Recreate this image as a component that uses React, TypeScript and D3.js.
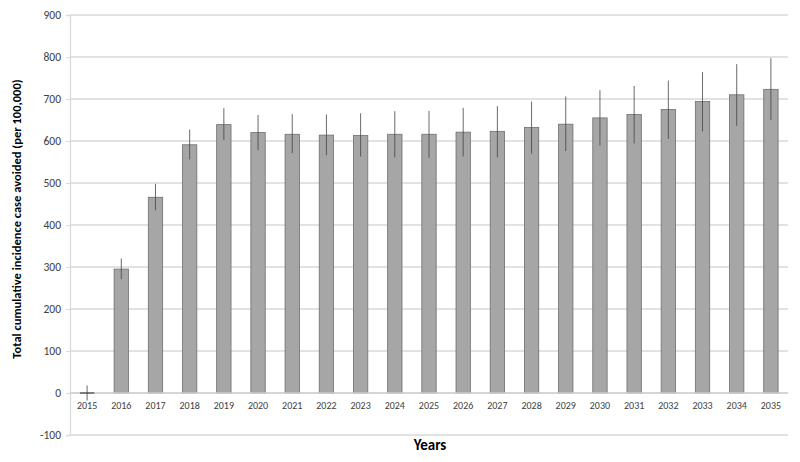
import React, { useEffect, useRef } from 'react';
import * as d3 from 'd3';

const years = ['2015', '2016', '2017', '2018', '2019', '2020', '2021', '2022', '2023', '2024', '2025',
  '2026', '2027', '2028', '2029', '2030', '2031', '2032', '2033', '2034', '2035'];
const avoided = [0, 295, 466, 591, 639, 620, 616, 614, 613, 616, 616, 621, 623, 632, 640, 655, 663, 675, 694, 710, 723];
const upper = [18, 320, 498, 627, 678, 662, 664, 663, 666, 671, 672, 679, 683, 694, 706, 721, 731, 744, 764, 783, 797];
const lower = [-18, 271, 435, 556, 602, 578, 571, 566, 563, 561, 560, 563, 561, 570, 576, 589, 594, 605, 623, 636, 650];
const yTicks = [-100, 0, 100, 200, 300, 400, 500, 600, 700, 800, 900];

const App = () => {
  const svgRef = useRef<SVGSVGElement>(null);

  useEffect(() => {
    const W = 800, H = 462;
    const margin = { top: 15, right: 12, bottom: 27, left: 70 };
    const width = W - margin.left - margin.right;
    const height = H - margin.top - margin.bottom;
    const font = 'Calibri, Carlito, Lato, "Open Sans", sans-serif';

    const root = d3.select(svgRef.current);
    root.selectAll('*').remove();
    root.attr('width', W).attr('height', H);

    const svg = root.append('g').attr('transform', `translate(${margin.left},${margin.top})`);

    const x = d3.scaleBand().domain(years).range([0, width]).paddingInner(0.58).paddingOuter(0.29);
    const y = d3.scaleLinear().domain([-100, 900]).range([height, 0]);

    // gridlines
    svg.selectAll('.grid')
      .data(yTicks)
      .enter()
      .append('line')
      .attr('x1', 0).attr('x2', width)
      .attr('y1', d => y(d)).attr('y2', d => y(d))
      .attr('stroke', '#d9d9d9')
      .attr('stroke-width', 1.3);

    // y axis (plain hyphen for negatives, like the original)
    const yAxis = svg.append('g').call(
      d3.axisLeft(y).tickValues(yTicks).tickSize(4).tickPadding(5).tickFormat(d => String(d))
    );
    yAxis.select('.domain').attr('stroke', '#d9d9d9').attr('stroke-width', 1.3);
    yAxis.selectAll('.tick line').attr('stroke', '#d9d9d9');
    yAxis.selectAll('text').attr('font-family', font).attr('font-size', 11.5).attr('fill', '#404040');

    // bars
    svg.selectAll('.bar')
      .data(avoided)
      .enter()
      .append('rect')
      .attr('x', (d, i) => x(years[i])!)
      .attr('y', d => y(Math.max(0, d)))
      .attr('width', x.bandwidth())
      .attr('height', d => Math.abs(y(d) - y(0)))
      .attr('fill', '#a6a6a6')
      .attr('stroke', '#6e6e6e')
      .attr('stroke-width', 0.8);

    // zero line
    svg.append('line')
      .attr('x1', 0).attr('x2', width)
      .attr('y1', y(0)).attr('y2', y(0))
      .attr('stroke', '#d0d0d0')
      .attr('stroke-width', 1.3);

    // 2015 zero-height bar outline
    svg.selectAll('.flat')
      .data(avoided.filter(d => d === 0))
      .enter()
      .append('line')
      .attr('x1', x(years[0])!).attr('x2', x(years[0])! + x.bandwidth())
      .attr('y1', y(0)).attr('y2', y(0))
      .attr('stroke', '#444')
      .attr('stroke-width', 1.2);

    // error bars
    svg.selectAll('.err')
      .data(years)
      .enter()
      .append('line')
      .attr('x1', d => x(d)! + x.bandwidth() / 2)
      .attr('x2', d => x(d)! + x.bandwidth() / 2)
      .attr('y1', (d, i) => y(upper[i]))
      .attr('y2', (d, i) => y(lower[i]))
      .attr('stroke', '#444')
      .attr('stroke-width', 0.8);

    // x labels
    svg.selectAll('.xl')
      .data(years)
      .enter()
      .append('text')
      .attr('x', d => x(d)! + x.bandwidth() / 2)
      .attr('y', y(0) + 16)
      .attr('text-anchor', 'middle')
      .attr('font-family', font)
      .attr('font-size', 10)
      .attr('fill', '#404040')
      .text(d => d);

    // axis titles
    root.append('text')
      .attr('x', 430).attr('y', 450)
      .attr('text-anchor', 'middle')
      .attr('font-family', font)
      .attr('font-size', 15)
      .attr('font-weight', 'bold')
      .text('Years');

    root.append('text')
      .attr('transform', 'translate(21,219) rotate(-90)')
      .attr('text-anchor', 'middle')
      .attr('font-family', font)
      .attr('font-size', 12.5)
      .attr('font-weight', 'bold')
      .text('Total cumulative incidence case avoided (per 100,000)');
  }, []);

  return (
    <div>
      <svg ref={svgRef} style={{ position: 'absolute', left: 0, top: 0 }}></svg>
    </div>
  );
};

export default App;
